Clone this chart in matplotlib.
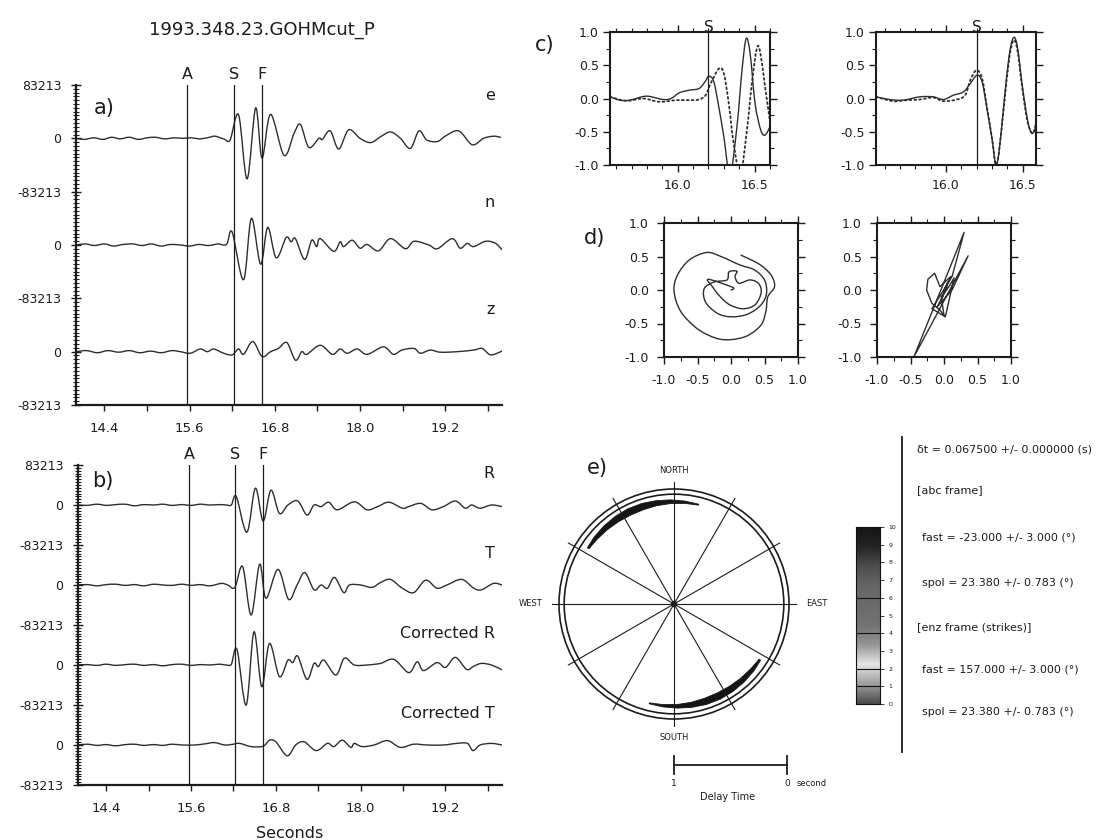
import matplotlib
matplotlib.use("Agg")
import numpy as np
import matplotlib.pyplot as plt
from matplotlib.ticker import FixedLocator, FixedFormatter, MultipleLocator, FormatStrFormatter
from matplotlib.patches import Circle, Polygon, PathPatch
from matplotlib.path import Path
from matplotlib.lines import Line2D
from matplotlib.colors import LinearSegmentedColormap

plt.rcParams['font.family'] = ['DejaVu Sans']

INK = '#1c1c1c'
WAVE = '#2e2e2e'

# ---------------- data ----------------
TITLE = "1993.348.23.GOHMcut_P"
AMP = 83213
PICKS = {"A": 15.57, "S": 16.22, "F": 16.62}
SEIS_XTICKS = [14.4, 15.6, 16.8, 18.0, 19.2]

# three-component traces (amplitude in units of AMP)
e_t = [14.00, 14.12, 14.25, 14.38, 14.50, 14.62, 14.75, 14.88, 15.00, 15.12, 15.25, 15.38, 15.50, 15.62, 15.75, 15.88, 15.96, 16.08, 16.17,
       16.29, 16.41, 16.53, 16.62, 16.74, 16.93, 17.07, 17.16, 17.28, 17.42, 17.47, 17.58, 17.70, 17.84, 18.00, 18.15, 18.29, 18.43, 18.57,
       18.71, 18.83, 18.94, 19.09, 19.20, 19.39, 19.58, 19.74, 19.88, 19.98]
e_a = [0.00, -0.02, 0.01, -0.02, 0.02, -0.01, 0.02, -0.02, 0.01, 0.02, -0.01, 0.01, 0.00, 0.01, -0.01, 0.02, 0.04, -0.01, -0.03,
       0.44, -0.76, 0.57, -0.37, 0.45, -0.32, 0.09, 0.26, -0.17, 0.00, -0.02, 0.14, -0.20, 0.16, 0.00, -0.08, 0.03, 0.12, 0.00,
       -0.19, 0.14, -0.03, -0.06, 0.04, 0.14, -0.12, 0.00, 0.04, 0.02]

n_t = [14.00, 14.13, 14.26, 14.40, 14.53, 14.66, 14.80, 14.93, 15.06, 15.20, 15.33, 15.47, 15.60, 15.73, 15.87, 16.00, 16.08,
       16.13, 16.20, 16.36, 16.47, 16.60, 16.70, 16.82, 16.96, 17.03, 17.09, 17.22, 17.32, 17.39, 17.44, 17.63, 17.72, 17.77,
       17.89, 18.00, 18.10, 18.26, 18.43, 18.64, 18.76, 18.97, 19.09, 19.30, 19.41, 19.51, 19.60, 19.77, 19.91, 20.00]
n_a = [0.00, 0.02, -0.01, 0.02, -0.02, 0.01, 0.02, -0.01, 0.02, -0.02, 0.01, 0.00, -0.02, 0.01, -0.01, 0.02, 0.00,
       0.03, 0.24, -0.65, 0.50, -0.36, 0.33, -0.24, 0.14, 0.06, 0.12, -0.27, 0.09, -0.03, 0.12, -0.12, 0.06, -0.03,
       0.09, -0.06, 0.01, -0.11, 0.12, -0.07, 0.07, 0.00, -0.07, 0.12, -0.06, 0.03, -0.03, 0.07, 0.03, -0.09]

z_t = [14.00, 14.15, 14.30, 14.45, 14.60, 14.75, 14.90, 15.05, 15.20, 15.35, 15.47, 15.61, 15.75, 15.85, 15.94, 16.08, 16.20,
       16.29, 16.36, 16.49, 16.62, 16.74, 16.85, 16.97, 17.09, 17.18, 17.25, 17.44, 17.61, 17.72, 17.82, 17.96, 18.10, 18.33,
       18.47, 18.59, 18.76, 18.85, 18.99, 19.13, 19.37, 19.60, 19.72, 19.84, 20.00]
z_a = [0.00, 0.02, -0.02, 0.02, -0.01, 0.02, -0.02, 0.01, -0.02, 0.02, 0.00, -0.03, 0.05, 0.00, 0.05, -0.03, -0.06,
       0.05, -0.05, 0.19, -0.09, 0.00, 0.06, 0.17, -0.16, 0.00, -0.05, 0.12, -0.05, 0.05, -0.03, 0.05, -0.05, 0.09,
       -0.05, 0.03, 0.06, -0.03, 0.03, -0.01, 0.00, 0.03, 0.06, -0.06, 0.01]

# rotated and corrected traces
r_t = [14.00, 14.13, 14.27, 14.40, 14.53, 14.67, 14.80, 14.93, 15.07, 15.20, 15.33, 15.47, 15.60, 15.73, 15.87, 16.00, 16.10,
       16.17, 16.24, 16.39, 16.51, 16.62, 16.73, 16.85, 16.97, 17.11, 17.24, 17.34, 17.44, 17.55, 17.67, 17.91, 18.09, 18.24,
       18.40, 18.59, 18.68, 18.85, 19.01, 19.17, 19.34, 19.48, 19.57, 19.69, 19.85, 20.00]
r_a = [0.00, -0.01, 0.02, -0.01, 0.01, 0.02, -0.02, 0.01, 0.00, 0.02, -0.01, 0.01, -0.01, 0.02, 0.00, 0.01, 0.00,
       0.00, 0.21, -0.68, 0.42, -0.40, 0.37, -0.21, 0.00, 0.10, -0.25, 0.00, -0.04, 0.07, -0.12, 0.08, -0.12, -0.04,
       0.07, -0.08, -0.04, 0.04, -0.12, -0.04, 0.10, -0.08, 0.00, -0.08, 0.00, -0.04]

t_t = [14.00, 14.13, 14.27, 14.40, 14.53, 14.67, 14.80, 14.93, 15.07, 15.20, 15.33, 15.47, 15.60, 15.73, 15.87, 16.03, 16.12,
       16.22, 16.33, 16.45, 16.57, 16.66, 16.83, 16.98, 17.10, 17.21, 17.34, 17.44, 17.53, 17.63, 17.76, 17.84, 18.00, 18.16,
       18.28, 18.42, 18.59, 18.75, 18.92, 19.08, 19.22, 19.43, 19.60, 19.71, 19.88, 20.00]
t_a = [0.00, 0.01, -0.02, 0.01, 0.02, -0.01, 0.01, -0.02, 0.02, 0.00, -0.01, 0.02, -0.01, 0.01, -0.02, 0.04, 0.00,
       -0.06, 0.46, -0.75, 0.52, -0.33, 0.39, -0.36, 0.00, 0.31, -0.12, 0.00, -0.08, 0.19, -0.19, 0.00, 0.00, -0.06,
       0.06, 0.14, -0.08, -0.19, 0.12, -0.08, 0.00, 0.14, -0.08, -0.12, 0.04, 0.00]

cr_t = [14.00, 14.13, 14.27, 14.40, 14.53, 14.67, 14.80, 14.93, 15.07, 15.20, 15.33, 15.47, 15.60, 15.73, 15.87, 16.00, 16.10,
        16.17, 16.25, 16.38, 16.49, 16.60, 16.71, 16.85, 16.97, 17.04, 17.11, 17.24, 17.34, 17.40, 17.48, 17.65, 17.77, 17.91,
        18.09, 18.28, 18.47, 18.68, 18.80, 18.89, 19.08, 19.20, 19.34, 19.50, 19.60, 19.71, 19.85, 20.00]
cr_a = [0.00, 0.01, -0.01, 0.02, -0.01, 0.01, 0.02, -0.01, 0.01, -0.02, 0.01, 0.02, -0.01, 0.01, 0.00, 0.02, 0.00,
        0.02, 0.39, -1.00, 0.83, -0.54, 0.54, -0.29, 0.12, 0.06, 0.22, -0.36, 0.04, -0.04, 0.12, -0.25, 0.17, 0.00,
        0.00, 0.04, 0.14, -0.19, 0.08, -0.14, 0.06, -0.06, 0.19, -0.11, -0.03, 0.04, 0.00, -0.12]

ct_t = [14.00, 14.13, 14.27, 14.40, 14.53, 14.67, 14.80, 14.93, 15.07, 15.20, 15.33, 15.47, 15.65, 15.80, 15.93, 16.08, 16.20,
        16.29, 16.45, 16.62, 16.71, 16.80, 16.96, 17.08, 17.20, 17.37, 17.53, 17.62, 17.74, 17.86, 17.91, 18.02, 18.19, 18.38,
        18.56, 18.75, 18.94, 19.17, 19.36, 19.51, 19.59, 19.69, 19.85, 20.00]
ct_a = [0.00, 0.02, -0.01, 0.01, -0.02, 0.01, 0.02, -0.01, 0.01, -0.01, 0.02, 0.00, 0.00, 0.03, 0.06, 0.00, 0.02,
        0.04, -0.04, -0.03, 0.12, 0.08, -0.27, 0.00, 0.08, -0.14, 0.04, -0.04, 0.12, -0.06, 0.04, -0.04, 0.00, 0.11,
        -0.06, 0.02, 0.00, 0.00, 0.04, 0.04, -0.14, 0.00, 0.04, 0.00]

# normalised fast/slow waveforms around the S window (before / after correction)
c1_t = [15.560, 15.624, 15.689, 15.796, 15.903, 15.957, 16.010, 16.075, 16.139, 16.177, 16.203, 16.235, 16.267, 16.300,
        16.340, 16.385, 16.418, 16.445, 16.471, 16.503, 16.540, 16.568, 16.600]
c1_fast = [0.025, -0.025, -0.025, 0.035, -0.015, 0.0, 0.085, 0.125, 0.15, 0.25, 0.335, 0.25, -0.125, -0.575,
           -1.15, -0.425, 0.425, 0.90, 0.675, -0.075, -0.475, -0.55, -0.425]
c1_slow_t = [15.560, 15.667, 15.774, 15.882, 15.989, 16.075, 16.139, 16.182, 16.214, 16.268, 16.300, 16.332, 16.364,
             16.407, 16.450, 16.482, 16.514, 16.536, 16.568, 16.600]
c1_slow = [0.025, -0.035, 0.0, -0.05, -0.025, -0.025, -0.015, 0.05, 0.225, 0.45, 0.375, -0.075, -0.675,
           -1.15, -0.475, 0.225, 0.75, 0.70, 0.175, -0.35]

c2_t = [15.544, 15.632, 15.719, 15.829, 15.917, 15.983, 16.048, 16.114, 16.158, 16.202, 16.235, 16.268, 16.301, 16.323,
        16.344, 16.377, 16.410, 16.439, 16.465, 16.498, 16.531, 16.559, 16.586]
c2_fast = [0.025, -0.015, -0.025, 0.025, 0.025, -0.015, 0.05, 0.10, 0.225, 0.35, 0.25, -0.175, -0.625, -0.985,
           -0.825, -0.075, 0.625, 0.915, 0.775, 0.175, -0.325, -0.525, -0.425]
c2_slow_t = [15.544, 15.654, 15.741, 15.829, 15.917, 15.983, 16.070, 16.125, 16.158, 16.198, 16.235, 16.268, 16.301,
             16.323, 16.344, 16.377, 16.410, 16.439, 16.465, 16.498, 16.531, 16.564, 16.586]
c2_slow = [0.025, -0.04, -0.025, -0.015, 0.015, -0.04, -0.015, 0.05, 0.275, 0.425, 0.30, -0.15, -0.625, -0.985,
           -0.825, -0.125, 0.575, 0.875, 0.725, 0.125, -0.35, -0.525, -0.375]

# particle motion (before / after correction)
pm1_x = [0.00, 0.04, 0.00, -0.34, -0.27, -0.17, -0.02, 0.18, 0.36, 0.45, 0.41, 0.28, 0.12, 0.06, 0.09, -0.03, -0.06,
         -0.25, -0.40, -0.38, -0.20, 0.01, 0.25, 0.45, 0.53, 0.50, 0.35, 0.13, -0.15, -0.36, -0.62, -0.80, -0.85,
         -0.75, -0.50, -0.22, 0.01, 0.25, 0.45, 0.52, 0.55, 0.65, 0.60, 0.43, 0.15]
pm1_y = [0.00, 0.02, 0.05, 0.16, 0.04, -0.09, -0.22, -0.28, -0.22, -0.04, 0.10, 0.15, 0.10, 0.20, 0.28, 0.27, 0.15,
         0.12, 0.02, -0.18, -0.35, -0.40, -0.36, -0.22, -0.05, 0.15, 0.30, 0.375, 0.50, 0.56, 0.45, 0.22, -0.02,
         -0.32, -0.58, -0.72, -0.74, -0.68, -0.52, -0.32, -0.10, 0.05, 0.22, 0.38, 0.52]
pm2_x = [0.00, 0.06, -0.03, 0.10, -0.06, -0.14, -0.24, -0.26, -0.18, -0.06, 0.00, -0.04, 0.08, 0.15, 0.02, -0.18,
         0.12, 0.30, -0.45, 0.36, 0.12, -0.10, 0.00, 0.05]
pm2_y = [0.00, 0.12, -0.12, 0.20, 0.05, 0.25, 0.16, 0.00, -0.20, -0.30, -0.38, -0.10, 0.06, 0.18, -0.40, -0.28,
         0.20, 0.86, -1.00, 0.51, 0.00, -0.25, -0.05, 0.03]

# error-surface rose: bearings (deg from north) and crescent half-widths
SPOKES = [0, 30, 60, 90, 120, 150]
arc_bearing = [-57, -50, -42, -34, -26, -18, -10, -2, 6, 14]
arc_half = [0.008, 0.016, 0.022, 0.027, 0.030, 0.028, 0.022, 0.016, 0.010, 0.004]
ARC_R = 0.89

# contour level scale
cb_levels = [0, 1, 2, 3, 4, 5, 6, 7, 8, 9, 10]
cb_gray = [0.30, 0.62, 0.90, 0.58, 0.45, 0.42, 0.40, 0.30, 0.14, 0.08]
cb_lines = [1, 2, 4, 6]

# splitting result
dt, dt_err = 0.0675, 0.0
fast_abc, fast_err = -23.0, 3.0
fast_enz = 157.0
spol, spol_err = 23.380, 0.783

# ---------------- figure ----------------
W, H = 1100, 840
fig = plt.figure(figsize=(W / 100, H / 100), dpi=100)
fig.patch.set_facecolor('white')


def px_box(l, t, r, b):
    return [l / W, 1 - b / H, (r - l) / W, (b - t) / H]


def ftext(x, y, s, **kw):
    kw.setdefault('color', INK)
    fig.text(x / W, 1 - y / H, s, **kw)


def smooth_line(ax, x, y, monotone=True, **kw):
    """Draw the samples joined by a smooth (Catmull-Rom style) Bezier curve."""
    p = np.column_stack([x, y]).astype(float)
    ext = np.vstack([p[0], p, p[-1]])
    verts, codes = [p[0]], [Path.MOVETO]
    for i in range(len(p) - 1):
        p0, p1, p2, p3 = ext[i], ext[i + 1], ext[i + 2], ext[i + 3]
        c1 = p1 + (p2 - p0) / 6.0
        c2 = p2 - (p3 - p1) / 6.0
        if monotone:
            lo, hi = p1[0], p2[0]
            c1[0] = min(max(c1[0], lo), hi)
            c2[0] = min(max(c2[0], lo), hi)
        verts += [c1, c2, p2]
        codes += [Path.CURVE4] * 3
    kw.setdefault('lw', 1.0)
    kw.setdefault('edgecolor', WAVE)
    ax.add_patch(PathPatch(Path(verts, codes), fill=False, capstyle='round', joinstyle='round', **kw))


def seismo_panel(rect, traces, names):
    ax = fig.add_axes(rect)
    offsets = [-2 * i * AMP for i in range(len(traces))]
    for (tt, aa), off, name in zip(traces, offsets, names):
        smooth_line(ax, tt, np.asarray(aa) * AMP + off, lw=1.0)
        ax.text(19.90, off + 0.8 * AMP, name, ha='right', va='center', fontsize=11.5, color=INK)
    ax.set_xlim(14.0, 20.0)
    ax.set_ylim(offsets[-1] - AMP, AMP)
    yt, yl = [AMP], [str(AMP)]
    for off in offsets:
        yt += [off, off - AMP]
        yl += ['0', '-%d' % AMP]
    ax.yaxis.set_major_locator(FixedLocator(yt))
    ax.yaxis.set_major_formatter(FixedFormatter(yl))
    ax.yaxis.set_minor_locator(MultipleLocator(AMP / 14))
    ax.xaxis.set_major_locator(FixedLocator(SEIS_XTICKS))
    ax.xaxis.set_minor_locator(MultipleLocator(0.6))
    ax.xaxis.set_major_formatter(FormatStrFormatter('%.1f'))
    for side in ('top', 'right'):
        ax.spines[side].set_visible(False)
    for side in ('left', 'bottom'):
        ax.spines[side].set_linewidth(1.6)
        ax.spines[side].set_color(INK)
    ax.tick_params(axis='y', which='major', direction='inout', length=7, width=1.0, pad=7,
                   labelsize=9, colors=INK)
    ax.tick_params(axis='y', which='minor', direction='inout', length=4, width=0.8, colors=INK)
    ax.tick_params(axis='x', which='both', direction='out', length=4, width=1.0, pad=8,
                   labelsize=9.5, colors=INK)
    for name, x in PICKS.items():
        ax.axvline(x, color=INK, lw=0.9)
        ax.text(x, 1.032, name, transform=ax.get_xaxis_transform(), ha='center', va='center',
                fontsize=11.5, color=INK, clip_on=False)
    return ax


ftext(262, 30, TITLE, ha='center', va='center', fontsize=13)

ax_a = seismo_panel(px_box(76, 85, 502, 405), [(e_t, e_a), (n_t, n_a), (z_t, z_a)], ['e', 'n', 'z'])
ax_b = seismo_panel(px_box(78, 465, 502, 785),
                    [(r_t, r_a), (t_t, t_a), (cr_t, cr_a), (ct_t, ct_a)],
                    ['R', 'T', 'Corrected R', 'Corrected T'])
ftext(290, 833, 'Seconds', ha='center', va='center', fontsize=11.5)
ftext(104, 108, 'a)', ha='center', va='center', fontsize=15)
ftext(103, 481, 'b)', ha='center', va='center', fontsize=15)


def boxed(rect, xlim, ylim, xmaj, xmin, ymaj, ymin, xpad, ypad):
    ax = fig.add_axes(rect)
    ax.set_xlim(xlim)
    ax.set_ylim(ylim)
    ax.xaxis.set_major_locator(FixedLocator(xmaj))
    ax.xaxis.set_minor_locator(FixedLocator(xmin))
    ax.yaxis.set_major_locator(FixedLocator(ymaj))
    ax.yaxis.set_minor_locator(FixedLocator(ymin))
    ax.xaxis.set_major_formatter(FormatStrFormatter('%.1f'))
    ax.yaxis.set_major_formatter(FormatStrFormatter('%.1f'))
    for s in ax.spines.values():
        s.set_linewidth(1.5)
        s.set_color(INK)
    ax.tick_params(which='both', direction='out', top=True, right=True, colors=INK, labelsize=9)
    ax.tick_params(which='major', length=5, width=1.0)
    ax.tick_params(which='minor', length=3, width=0.8)
    ax.tick_params(axis='x', pad=xpad)
    ax.tick_params(axis='y', pad=ypad)
    return ax


c_xmin = [15.6, 15.7, 15.8, 15.9, 16.1, 16.2, 16.3, 16.4, 16.6]
for rect, xlim, (ft, fv), (st, sv) in [
        (px_box(610, 32, 770, 165), (15.56, 16.60), (c1_t, c1_fast), (c1_slow_t, c1_slow)),
        (px_box(876, 32, 1036, 165), (15.544, 16.586), (c2_t, c2_fast), (c2_slow_t, c2_slow))]:
    ax = boxed(rect, xlim, (-1.0, 1.0), [16.0, 16.5], c_xmin,
               [-1.0, -0.5, 0.0, 0.5, 1.0], [-0.75, -0.25, 0.25, 0.75], 5, 3)
    smooth_line(ax, ft, fv, lw=1.0)
    smooth_line(ax, st, sv, lw=1.3, linestyle=(0, (1.0, 1.7)))
    ax.axvline(PICKS['S'] - 0.02, color=INK, lw=0.9)
    ax.text(PICKS['S'] - 0.02, 1.035, 'S', transform=ax.get_xaxis_transform(), ha='center',
            va='center', fontsize=11, color=INK, clip_on=False)
ftext(545, 45, 'c)', ha='center', va='center', fontsize=15)

ticks_d = [-1.0, -0.5, 0.0, 0.5, 1.0]
minor_d = [-0.75, -0.25, 0.25, 0.75]
ax_d1 = boxed(px_box(664, 223, 798, 357), (-1.0, 1.0), (-1.0, 1.0), ticks_d, minor_d, ticks_d, minor_d, 7, 6)
smooth_line(ax_d1, pm1_x, pm1_y, monotone=False, lw=1.0)
ax_d2 = boxed(px_box(877, 223, 1011, 357), (-1.0, 1.0), (-1.0, 1.0), ticks_d, minor_d, ticks_d, minor_d, 7, 6)
ax_d2.plot(pm2_x, pm2_y, color=WAVE, lw=1.0)
ftext(595, 238, 'd)', ha='center', va='center', fontsize=15)

# rose of the error surface
cx, cy, rad = 674, 604, 115
ax_e = fig.add_axes(px_box(510, 450, 840, 815))
ax_e.set_xlim((510 - cx) / rad, (840 - cx) / rad)
ax_e.set_ylim(-(815 - cy) / rad, (cy - 450) / rad)
ax_e.axis('off')
for r in (1.0, 0.955):
    ax_e.add_patch(Circle((0, 0), r, fill=False, lw=1.2, color=INK))
for b in SPOKES:
    br = np.radians(b)
    ax_e.plot([1.06 * np.sin(br), -1.06 * np.sin(br)], [1.06 * np.cos(br), -1.06 * np.cos(br)],
              color=INK, lw=0.8)
ax_e.add_patch(Circle((0, 0), 0.022, color=INK))
for shift in (0, 180):
    bb = np.radians(np.asarray(arc_bearing) + shift)
    hw = np.asarray(arc_half)
    outer = np.column_stack([(ARC_R + hw) * np.sin(bb), (ARC_R + hw) * np.cos(bb)])
    inner = np.column_stack([(ARC_R - hw) * np.sin(bb), (ARC_R - hw) * np.cos(bb)])[::-1]
    ax_e.add_patch(Polygon(np.vstack([outer, inner]), closed=True, color='#151515', lw=0.6))
ax_e.text(0, 1.16, 'NORTH', ha='center', va='center', fontsize=6, color=INK)
ax_e.text(0, -1.16, 'SOUTH', ha='center', va='center', fontsize=6, color=INK)
ax_e.text(-1.25, 0, 'WEST', ha='center', va='center', fontsize=6, color=INK)
ax_e.text(1.24, 0, 'EAST', ha='center', va='center', fontsize=6, color=INK)
# delay-time scale bar
bar_y = -1.40
ax_e.plot([0, 0.983], [bar_y, bar_y], color=INK, lw=1.3)
for xe in (0, 0.983):
    ax_e.plot([xe, xe], [bar_y - 0.08, bar_y + 0.08], color=INK, lw=1.3)
ax_e.text(0, -1.56, '1', ha='center', va='center', fontsize=6.5, color=INK)
ax_e.text(0.983, -1.56, '0', ha='center', va='center', fontsize=6.5, color=INK)
ax_e.text(1.07, -1.56, 'second', ha='left', va='center', fontsize=6, color=INK)
ax_e.text(0.47, -1.68, 'Delay Time', ha='center', va='center', fontsize=7, color=INK)
ftext(597, 468, 'e)', ha='center', va='center', fontsize=15)

# contour level scale
ax_cb = fig.add_axes(px_box(856, 527, 880, 704))
cmap = LinearSegmentedColormap.from_list('levels', [(g, g, g) for g in cb_gray])
ax_cb.imshow(np.linspace(0, 10, 200).reshape(-1, 1), extent=[0, 1, 0, 10], origin='lower',
             aspect='auto', cmap=cmap, vmin=0, vmax=10)
for lv in cb_lines:
    ax_cb.axhline(lv, color='#111111', lw=0.8)
ax_cb.set_xlim(0, 1)
ax_cb.set_ylim(0, 10)
ax_cb.set_xticks([])
ax_cb.yaxis.tick_right()
ax_cb.set_yticks(cb_levels)
ax_cb.tick_params(axis='y', length=3, width=0.6, pad=3, labelsize=4.5, colors=INK)
for s in ax_cb.spines.values():
    s.set_linewidth(0.8)
    s.set_color('#111111')

# result column
fig.add_artist(Line2D([902 / W, 902 / W], [1 - 437 / H, 1 - 752 / H], color=INK, lw=1.3))
rows = [
    (917, 450, '\u03b4t = %.6f +/- %.6f (s)' % (dt, dt_err)),
    (917, 490, '[abc frame]'),
    (922, 538, 'fast = %.3f +/- %.3f (\u00b0)' % (fast_abc, fast_err)),
    (922, 583, 'spol = %.3f +/- %.3f (\u00b0)' % (spol, spol_err)),
    (917, 627, '[enz frame (strikes)]'),
    (922, 670, 'fast = %.3f +/- %.3f (\u00b0)' % (fast_enz, fast_err)),
    (922, 712, 'spol = %.3f +/- %.3f (\u00b0)' % (spol, spol_err)),
]
for x, y, s in rows:
    ftext(x, y, s, ha='left', va='center', fontsize=8)

fig.savefig('out.png', dpi=100, facecolor='white')
